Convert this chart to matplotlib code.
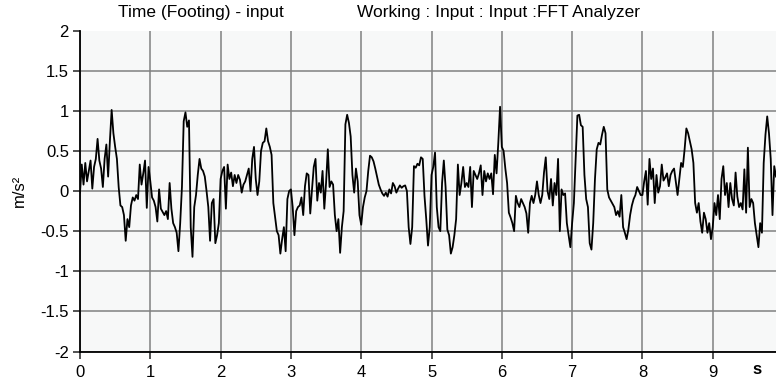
import numpy as np
import matplotlib
matplotlib.use('Agg')
import matplotlib.pyplot as plt

# acceleration record, sampled every 25 ms
dt = 0.025
acc = [
    -0.02, 0.33, 0.08, 0.35, 0.12, 0.25, 0.38, 0.03, 0.30, 0.40, 0.65, 0.38, 0.28, 0.05, 0.40, 0.58, 0.18, 0.62, 1.01, 0.72,
    0.55, 0.40, 0.05, -0.18, -0.20, -0.30, -0.62, -0.35, -0.45, -0.18, -0.08, -0.12, -0.05, -0.10, 0.33, 0.08, 0.22, 0.38, -0.21, 0.30,
    0.12, -0.08, -0.12, -0.20, -0.38, 0.02, -0.22, -0.26, -0.30, -0.25, -0.35, 0.10, -0.22, -0.40, -0.45, -0.52, -0.75, -0.40, 0.05, 0.87,
    0.98, 0.80, 0.88, -0.45, -0.82, -0.20, -0.05, 0.20, 0.40, 0.28, 0.25, 0.18, 0.00, -0.20, -0.62, -0.15, -0.10, -0.65, -0.55, -0.40,
    0.15, 0.25, 0.30, -0.22, 0.33, 0.15, 0.23, 0.06, 0.20, 0.10, 0.20, 0.14, -0.02, 0.08, 0.12, 0.20, 0.28, 0.00, 0.40, 0.55,
    0.15, -0.05, 0.12, 0.50, 0.60, 0.62, 0.78, 0.62, 0.55, 0.45, -0.15, -0.32, -0.50, -0.55, -0.78, -0.60, -0.45, -0.75, -0.10, 0.00,
    0.02, -0.20, -0.55, -0.25, -0.20, -0.18, -0.08, -0.30, 0.06, 0.22, 0.20, -0.28, 0.02, 0.30, 0.40, -0.12, 0.10, -0.02, 0.25, -0.22,
    0.10, 0.52, 0.05, 0.12, 0.08, -0.30, -0.50, -0.35, -0.77, -0.45, -0.25, 0.83, 0.95, 0.85, 0.68, 0.20, -0.02, 0.28, 0.12, -0.30,
    -0.42, -0.20, -0.08, 0.00, 0.25, 0.44, 0.42, 0.37, 0.28, 0.18, 0.08, 0.02, -0.03, -0.06, -0.02, -0.07, 0.02, -0.03, 0.10, 0.06,
    -0.02, 0.03, 0.07, 0.04, 0.06, 0.07, 0.00, -0.45, -0.66, -0.45, 0.31, 0.29, 0.34, 0.32, 0.42, 0.40, -0.06, -0.35, -0.68, -0.45,
    0.20, 0.30, 0.48, -0.20, -0.45, -0.50, 0.10, 0.38, 0.05, -0.48, -0.55, -0.78, -0.70, -0.55, -0.35, 0.33, -0.05, 0.10, 0.30, 0.05,
    0.10, 0.05, 0.30, -0.20, 0.25, 0.20, 0.15, 0.22, 0.32, -0.05, 0.25, 0.12, 0.22, 0.15, 0.22, -0.04, 0.45, 0.22, 0.60, 1.05,
    0.55, 0.50, 0.28, 0.10, -0.27, -0.33, -0.40, -0.50, -0.06, -0.15, -0.20, -0.10, -0.15, -0.20, -0.28, -0.52, -0.15, -0.06, -0.15, -0.05,
    0.12, -0.05, -0.15, -0.05, 0.23, 0.42, 0.00, -0.10, 0.15, -0.18, 0.10, -0.05, 0.40, -0.50, 0.02, -0.05, -0.03, -0.40, -0.55, -0.70,
    -0.40, -0.15, 0.40, 0.94, 0.95, 0.82, 0.80, 0.20, -0.10, -0.20, -0.65, -0.73, -0.40, 0.15, 0.52, 0.60, 0.58, 0.70, 0.80, 0.72,
    0.02, -0.08, -0.12, -0.16, -0.20, -0.30, -0.25, -0.32, -0.05, -0.45, -0.52, -0.60, -0.48, -0.30, -0.18, -0.10, -0.05, 0.05, 0.00, -0.05,
    -0.05, 0.12, 0.25, -0.17, 0.40, 0.15, 0.28, -0.15, 0.20, -0.02, 0.06, 0.33, 0.13, 0.17, 0.22, 0.06, 0.20, 0.25, 0.28, 0.12,
    -0.05, 0.15, 0.35, 0.30, 0.52, 0.78, 0.72, 0.62, 0.52, 0.35, -0.15, -0.27, -0.15, -0.38, -0.52, -0.27, -0.35, -0.52, -0.40, -0.60,
    -0.45, -0.15, -0.30, -0.05, -0.35, 0.15, 0.31, -0.05, 0.10, -0.20, 0.10, -0.10, -0.18, 0.23, -0.07, -0.20, -0.15, -0.23, 0.27, -0.27,
    0.54, -0.20, -0.10, -0.15, -0.40, -0.55, -0.70, -0.40, -0.52, 0.35, 0.70, 0.93, 0.72, 0.40, -0.30, 0.31, 0.18,
]
t = np.arange(len(acc)) * dt

xticks = [0, 1, 2, 3, 4, 5, 6, 7, 8, 9]
xlabels = ['0', '1', '2', '3', '4', '5', '6', '7', '8', '9']
yticks = [-2, -1.5, -1, -0.5, 0, 0.5, 1, 1.5, 2]
ylabels = ['-2', '-1.5', '-1', '-0.5', '0', '0.5', '1', '1.5', '2']

plt.rcParams['font.family'] = 'Liberation Sans'
plt.rcParams['font.size'] = 12

fig = plt.figure(figsize=(7.76, 3.82), dpi=100)
ax = fig.add_axes([0.1031, 0.0798, 0.8969, 0.8403])
ax.set_facecolor('#f7f8f8')

ax.plot(t, acc, color='black', linewidth=1.3, zorder=3)

ax.set_xlim(0, 9.9)
ax.set_ylim(-2, 2)
ax.set_xticks(xticks)
ax.set_xticklabels(xlabels)
ax.set_yticks(yticks)
ax.set_yticklabels(ylabels)

ax.grid(True, color='#808080', linewidth=1.1, zorder=1)
ax.yaxis.get_gridlines()[-1].set_visible(False)
ax.set_axisbelow(True)

for side in ['top', 'right']:
    ax.spines[side].set_visible(False)
for side in ['left', 'bottom']:
    ax.spines[side].set_color('black')
    ax.spines[side].set_linewidth(1.3)

ax.tick_params(axis='both', direction='out', length=5, width=1.1, color='#222222')
ax.tick_params(axis='x', pad=5)
ax.tick_params(axis='y', pad=3)

ax.set_ylabel('m/s²', fontsize=12, labelpad=10)

fig.text(118/776, 1 - 13/382, 'Time (Footing) - input', ha='left', va='center', fontsize=12.5)
fig.text(357/776, 1 - 13/382, 'Working : Input : Input :FFT Analyzer', ha='left', va='center', fontsize=12.5)
fig.text(757/776, 1 - 369/382, 's', ha='center', va='center', fontsize=12, fontweight='bold')

plt.savefig('out.png', dpi=100)
